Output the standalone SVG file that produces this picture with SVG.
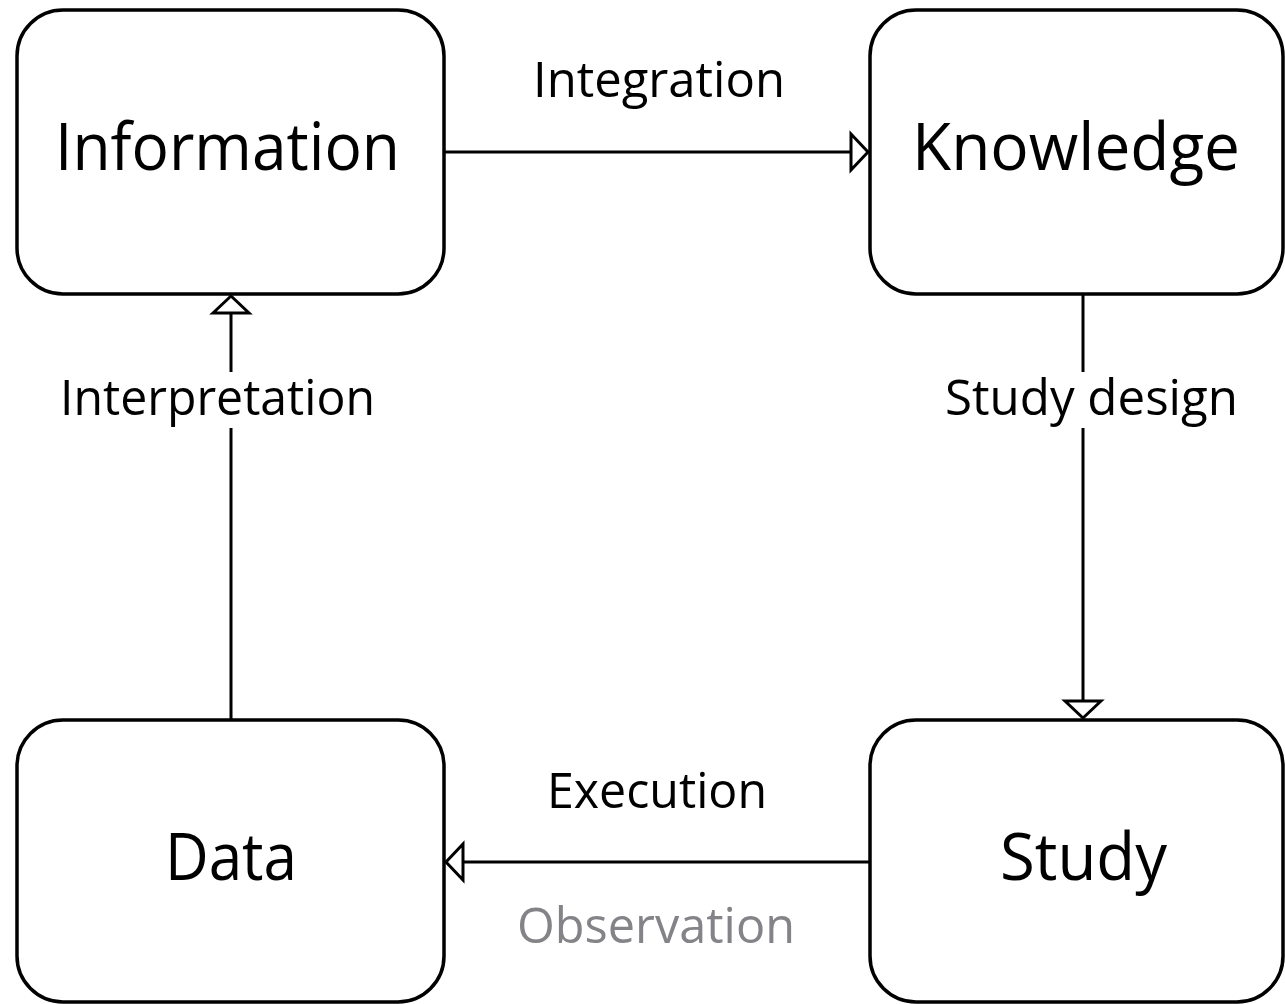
<svg xmlns="http://www.w3.org/2000/svg" width="1285" height="1004" viewBox="0 0 1285 1004">
<style>
.box{fill:#ffffff;stroke:#000000;stroke-width:3.5}
.node{font-family:"Open Sans","Noto Sans","Liberation Sans",sans-serif;font-size:66px;fill:#000000;text-anchor:middle}
.lbl{font-family:"Open Sans","Noto Sans","Liberation Sans",sans-serif;font-size:49px;fill:#000000;text-anchor:middle}
.gray{fill:#838388}
.edge{fill:none;stroke:#000000;stroke-width:3}
</style>
<defs>
<marker id="tri" markerUnits="userSpaceOnUse" viewBox="-4 -24 26 48" markerWidth="26" markerHeight="48" refX="17" refY="0" orient="auto" overflow="visible">
<path d="M0,-18 L17,0 L0,18 Z" fill="#ffffff" stroke="#000000" stroke-width="3" stroke-linejoin="miter"/>
</marker>
</defs>
<rect width="1285" height="1004" fill="#ffffff"/>
<g id="connectors">
<path class="edge" d="M444,152 L868,152" marker-end="url(#tri)"/>
<path class="edge" d="M231,720 L231,428"/>
<path class="edge" d="M231,372 L231,296" marker-end="url(#tri)"/>
<path class="edge" d="M1083,294 L1083,372"/>
<path class="edge" d="M1083,428 L1083,718" marker-end="url(#tri)"/>
<path class="edge" d="M870,862 L446,862" marker-end="url(#tri)"/>
<text class="lbl" x="659" y="97" textLength="252" lengthAdjust="spacingAndGlyphs">Integration</text>
<text class="lbl" x="217.5" y="415" textLength="315" lengthAdjust="spacingAndGlyphs">Interpretation</text>
<text class="lbl" x="1091.5" y="415" textLength="293" lengthAdjust="spacingAndGlyphs">Study design</text>
<text class="lbl" x="657" y="808" textLength="220" lengthAdjust="spacingAndGlyphs">Execution</text>
<text class="lbl gray" x="656" y="943" textLength="278" lengthAdjust="spacingAndGlyphs">Observation</text>
</g>
<g id="information">
<rect class="box" x="17" y="10" width="427" height="284" rx="46" ry="46"/>
<text class="node" x="227.5" y="170" textLength="345" lengthAdjust="spacingAndGlyphs">Information</text>
</g>
<g id="knowledge">
<rect class="box" x="870" y="10" width="413" height="284" rx="46" ry="46"/>
<text class="node" x="1076" y="170" textLength="328" lengthAdjust="spacingAndGlyphs">Knowledge</text>
</g>
<g id="data">
<rect class="box" x="17" y="720" width="427" height="282" rx="46" ry="46"/>
<text class="node" x="231" y="880" textLength="132" lengthAdjust="spacingAndGlyphs">Data</text>
</g>
<g id="study">
<rect class="box" x="870" y="720" width="413" height="282" rx="46" ry="46"/>
<text class="node" x="1083.5" y="880" textLength="167" lengthAdjust="spacingAndGlyphs">Study</text>
</g>
</svg>
